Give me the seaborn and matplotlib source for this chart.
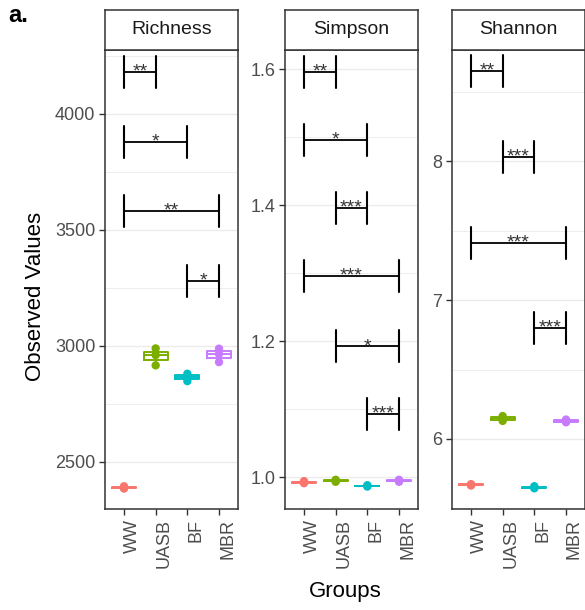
import matplotlib
matplotlib.use("Agg")
import matplotlib.pyplot as plt
import numpy as np
import pandas as pd
import seaborn as sns
from matplotlib.ticker import MultipleLocator, FormatStrFormatter

# ---- data -------------------------------------------------------------
groups = ["WW", "UASB", "BF", "MBR"]
palette = ["#F8766D", "#7CAE00", "#00BFC4", "#C77CFF"]

richness_ww = [2385, 2390, 2395]
richness_uasb = [2916, 2960, 2989]
richness_bf = [2848, 2865, 2880]
richness_mbr = [2930, 2965, 2988]

simpson_ww = [0.991, 0.9925, 0.994]
simpson_uasb = [0.993, 0.9945, 0.996]
simpson_bf = [0.986, 0.987, 0.988]
simpson_mbr = [0.993, 0.9945, 0.996]

shannon_ww = [5.665, 5.670, 5.675]
shannon_uasb = [6.130, 6.150, 6.165]
shannon_bf = [5.645, 5.650, 5.660]
shannon_mbr = [6.120, 6.130, 6.140]

# significance brackets: (group a, group b), height, label
richness_pairs = [("WW", "UASB"), ("WW", "BF"), ("WW", "MBR"), ("BF", "MBR")]
richness_sig_y = [4180, 3880, 3580, 3280]
richness_sig = ["**", "*", "**", "*"]

simpson_pairs = [("WW", "UASB"), ("WW", "BF"), ("UASB", "BF"),
                 ("WW", "MBR"), ("UASB", "MBR"), ("BF", "MBR")]
simpson_sig_y = [1.595, 1.495, 1.395, 1.295, 1.192, 1.093]
simpson_sig = ["**", "*", "***", "***", "*", "***"]

shannon_pairs = [("WW", "UASB"), ("UASB", "BF"), ("WW", "MBR"), ("BF", "MBR")]
shannon_sig_y = [8.65, 8.03, 7.41, 6.80]
shannon_sig = ["**", "***", "***", "***"]

metrics = ["Richness", "Simpson", "Shannon"]
metric_values = {
    "Richness": [richness_ww, richness_uasb, richness_bf, richness_mbr],
    "Simpson": [simpson_ww, simpson_uasb, simpson_bf, simpson_mbr],
    "Shannon": [shannon_ww, shannon_uasb, shannon_bf, shannon_mbr],
}
metric_brackets = {
    "Richness": (richness_pairs, richness_sig_y, richness_sig),
    "Simpson": (simpson_pairs, simpson_sig_y, simpson_sig),
    "Shannon": (shannon_pairs, shannon_sig_y, shannon_sig),
}

rows = []
for m in metrics:
    for g, vals in zip(groups, metric_values[m]):
        for v in vals:
            rows.append({"Metric": m, "Group": g, "Value": v})
df = pd.DataFrame(rows)

# ---- style --------------------------------------------------------------
sns.set_style("white")
plt.rcParams["font.family"] = ["Liberation Sans", "DejaVu Sans"]

W, H = 585, 610
fig = plt.figure(figsize=(W / 100, H / 100), dpi=100)

panel_left = {"Richness": 105, "Simpson": 285, "Shannon": 452}
panel_w, panel_top, panel_bot = 133, 50, 509
strip_top = 10

ylims = {"Richness": (2297, 4275), "Simpson": (0.953, 1.628), "Shannon": (5.496, 8.80)}
major = {"Richness": 500, "Simpson": 0.2, "Shannon": 1}
fmt = {"Richness": "%d", "Simpson": "%.1f", "Shannon": "%d"}

frame_col = "#333333"
grid_col = "#EBEBEB"

for m in metrics:
    x0 = panel_left[m]
    ax = fig.add_axes([x0 / W, (H - panel_bot) / H, panel_w / W, (panel_bot - panel_top) / H])
    sub = df[df["Metric"] == m]

    ax.set_xlim(-0.6, 3.6)
    ax.set_ylim(*ylims[m])
    ax.yaxis.set_major_locator(MultipleLocator(major[m]))
    ax.yaxis.set_minor_locator(MultipleLocator(major[m] / 2))
    ax.yaxis.set_major_formatter(FormatStrFormatter(fmt[m]))

    ax.grid(True, which="major", color=grid_col, lw=1.0, zorder=0)
    ax.grid(True, which="minor", axis="y", color=grid_col, lw=0.6, zorder=0)
    ax.set_axisbelow(True)

    sns.boxplot(data=sub, x="Group", y="Value", hue="Group", order=groups,
                hue_order=groups, palette=palette, fill=False, width=0.75,
                linewidth=1.4, legend=False, showcaps=False, showfliers=False,
                ax=ax)
    sns.stripplot(data=sub, x="Group", y="Value", hue="Group", order=groups,
                  hue_order=groups, palette=palette, jitter=False, size=6,
                  legend=False, ax=ax, zorder=3)
    ax.set_xlim(-0.6, 3.6)
    ax.set_ylim(*ylims[m])

    # significance brackets
    ylo, yhi = ylims[m]
    cap = 16 / (panel_bot - panel_top) * (yhi - ylo)
    pairs, ys, labels = metric_brackets[m]
    for (a, b), y, lab in zip(pairs, ys, labels):
        xa, xb = groups.index(a), groups.index(b)
        ax.plot([xa, xb], [y, y], color="black", lw=1.3, zorder=4)
        ax.plot([xa, xa], [y - cap, y + cap], color="black", lw=1.5, zorder=4)
        ax.plot([xb, xb], [y - cap, y + cap], color="black", lw=1.5, zorder=4)
        ax.text((xa + xb) / 2, y, lab, ha="center", va="center",
                fontsize=14, color="#333333", zorder=5)

    for s in ax.spines.values():
        s.set_color(frame_col)
        s.set_linewidth(1.1)
    ax.tick_params(axis="both", which="major", direction="out", length=4,
                   width=1.0, color=frame_col, labelcolor="#4D4D4D",
                   labelsize=13, pad=3, left=True, bottom=True)
    ax.tick_params(axis="y", which="minor", length=0)
    ax.set_xlabel("")
    ax.set_ylabel("")
    ax.set_xticks(range(len(groups)))
    ax.set_xticklabels(groups)
    for lab in ax.get_xticklabels():
        lab.set_rotation(90)
        lab.set_rotation_mode("anchor")
        lab.set_ha("right")
        lab.set_va("top")

    # facet strip
    sax = fig.add_axes([x0 / W, (H - panel_top) / H, panel_w / W, (panel_top - strip_top) / H])
    sax.set_facecolor("white")
    sax.set_xticks([])
    sax.set_yticks([])
    for s in sax.spines.values():
        s.set_color(frame_col)
        s.set_linewidth(1.1)
    sax.text(0.5, 0.5, m, ha="center", va="center", fontsize=14,
             color="#1A1A1A", transform=sax.transAxes)

fig.text(36 / W, 1 - 296 / H, "Observed Values", rotation=90, ha="center",
         va="center", fontsize=16, color="black")
fig.text(345 / W, 1 - 592 / H, "Groups", ha="center", va="center",
         fontsize=16, color="black")
fig.text(8 / W, 1 - 4 / H, "a.", ha="left", va="top", fontsize=17,
         fontweight="bold", color="black")

fig.savefig("out.png", dpi=100, facecolor="white")
